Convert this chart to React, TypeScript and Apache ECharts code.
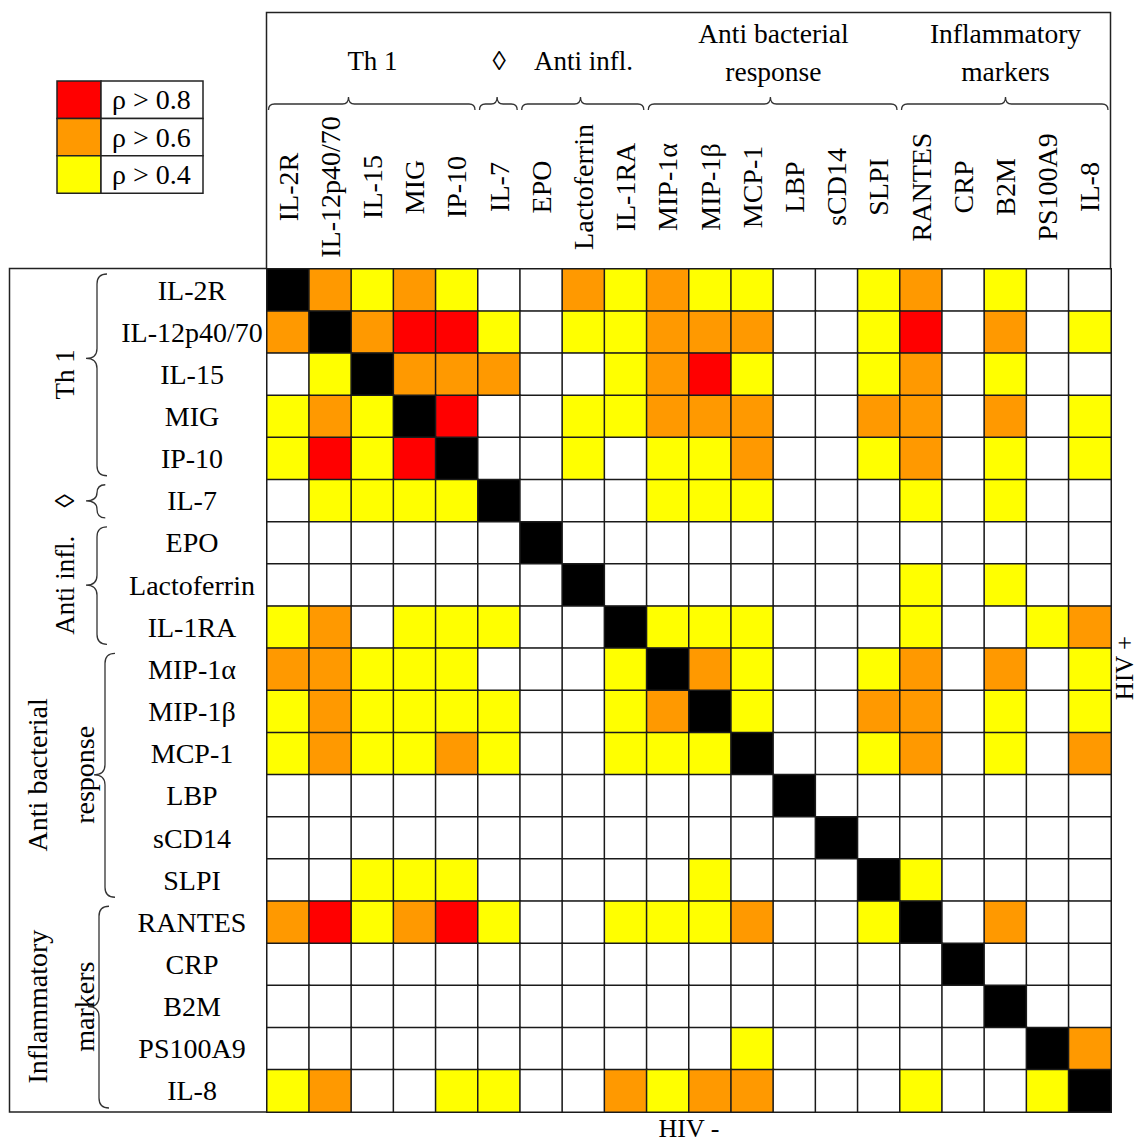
import React, { useEffect, useRef } from 'react';
import * as echarts from 'echarts';

// ---------- data ----------
const markers = [
  'IL-2R', 'IL-12p40/70', 'IL-15', 'MIG', 'IP-10', 'IL-7', 'EPO', 'Lactoferrin', 'IL-1RA',
  'MIP-1α', 'MIP-1β', 'MCP-1', 'LBP', 'sCD14', 'SLPI', 'RANTES', 'CRP', 'B2M', 'PS100A9', 'IL-8',
];

// correlation level per cell: 0 = none, 1 = ρ > 0.4, 2 = ρ > 0.6, 3 = ρ > 0.8, 4 = diagonal
const levels: number[][] = [
  [4, 2, 1, 2, 1, 0, 0, 2, 1, 2, 1, 1, 0, 0, 1, 2, 0, 1, 0, 0],
  [2, 4, 2, 3, 3, 1, 0, 1, 1, 2, 2, 2, 0, 0, 1, 3, 0, 2, 0, 1],
  [0, 1, 4, 2, 2, 2, 0, 0, 1, 2, 3, 1, 0, 0, 1, 2, 0, 1, 0, 0],
  [1, 2, 1, 4, 3, 0, 0, 1, 1, 2, 2, 2, 0, 0, 2, 2, 0, 2, 0, 1],
  [1, 3, 1, 3, 4, 0, 0, 1, 0, 1, 1, 2, 0, 0, 1, 2, 0, 1, 0, 1],
  [0, 1, 1, 1, 1, 4, 0, 0, 0, 1, 1, 1, 0, 0, 0, 1, 0, 1, 0, 0],
  [0, 0, 0, 0, 0, 0, 4, 0, 0, 0, 0, 0, 0, 0, 0, 0, 0, 0, 0, 0],
  [0, 0, 0, 0, 0, 0, 0, 4, 0, 0, 0, 0, 0, 0, 0, 1, 0, 1, 0, 0],
  [1, 2, 0, 1, 1, 1, 0, 0, 4, 1, 1, 1, 0, 0, 0, 1, 0, 0, 1, 2],
  [2, 2, 1, 1, 1, 0, 0, 0, 1, 4, 2, 1, 0, 0, 1, 2, 0, 2, 0, 1],
  [1, 2, 1, 1, 1, 1, 0, 0, 1, 2, 4, 1, 0, 0, 2, 2, 0, 1, 0, 1],
  [1, 2, 1, 1, 2, 1, 0, 0, 1, 1, 1, 4, 0, 0, 1, 2, 0, 1, 0, 2],
  [0, 0, 0, 0, 0, 0, 0, 0, 0, 0, 0, 0, 4, 0, 0, 0, 0, 0, 0, 0],
  [0, 0, 0, 0, 0, 0, 0, 0, 0, 0, 0, 0, 0, 4, 0, 0, 0, 0, 0, 0],
  [0, 0, 1, 1, 1, 0, 0, 0, 0, 0, 1, 0, 0, 0, 4, 1, 0, 0, 0, 0],
  [2, 3, 1, 2, 3, 1, 0, 0, 1, 1, 1, 2, 0, 0, 1, 4, 0, 2, 0, 0],
  [0, 0, 0, 0, 0, 0, 0, 0, 0, 0, 0, 0, 0, 0, 0, 0, 4, 0, 0, 0],
  [0, 0, 0, 0, 0, 0, 0, 0, 0, 0, 0, 0, 0, 0, 0, 0, 0, 4, 0, 0],
  [0, 0, 0, 0, 0, 0, 0, 0, 0, 0, 0, 1, 0, 0, 0, 0, 0, 0, 4, 2],
  [1, 2, 0, 0, 1, 1, 0, 0, 2, 1, 2, 2, 0, 0, 0, 1, 0, 0, 1, 4],
];

const levelColors = ['#ffffff', '#ffff00', '#ff9900', '#ff0000', '#000000'];
const legendLabels = ['ρ > 0.8', 'ρ > 0.6', 'ρ > 0.4'];
const legendLevels = [3, 2, 1];

const groupLines: string[][] = [['Th 1'], ['◊'], ['Anti infl.'], ['Anti bacterial', 'response'], ['Inflammatory', 'markers']];
const groupStart = [0, 5, 6, 9, 15];
const groupEnd = [4, 5, 8, 14, 19];

const axisTitleX = 'HIV -';
const axisTitleY = 'HIV +';

// ---------- layout ----------
const FONT = '"Liberation Serif", "Times New Roman", serif';
const W = 1137;
const H = 1143;
const GX = 267;
const GY = 269;
const GW = 844;
const GH = 843;
const N = markers.length;
const CW = GW / N;
const CH = GH / N;
const LINE = '#222222';
const topTipShift = [-24, -2, -3, -3, 0];
const leftTipShift = [-16, 0, 0, 0, 0];
const leftBraceX = [97, 97, 97, 105, 99];

function hBrace(x0: number, x1: number, xt: number, y: number, r: number, h: number) {
  return `M ${x0} ${y + r} Q ${x0} ${y} ${x0 + r} ${y} L ${xt - r} ${y} Q ${xt} ${y} ${xt} ${y - h} Q ${xt} ${y} ${xt + r} ${y} L ${x1 - r} ${y} Q ${x1} ${y} ${x1} ${y + r}`;
}
function vBrace(y0: number, y1: number, yt: number, x: number, r: number, h: number) {
  return `M ${x + r} ${y0} Q ${x} ${y0} ${x} ${y0 + r} L ${x} ${yt - r} Q ${x} ${yt} ${x - h} ${yt} Q ${x} ${yt} ${x} ${yt + r} L ${x} ${y1 - r} Q ${x} ${y1} ${x + r} ${y1}`;
}

function txt(text: string, x: number, y: number, size: number, rotation = 0, align = 'center') {
  return { type: 'text', silent: true, x, y, rotation, style: { text, font: `${size}px ${FONT}`, fill: '#000', align, verticalAlign: 'middle' } };
}

function buildGraphics() {
  const els: any[] = [];
  // frames
  els.push({
    type: 'polyline', silent: true,
    shape: { points: [[GX - 0.5, GY], [GX - 0.5, 12.5], [GX + GW - 0.5, 12.5], [GX + GW - 0.5, GY]] },
    style: { stroke: LINE, lineWidth: 1.5, fill: null },
  });
  els.push({
    type: 'polyline', silent: true,
    shape: { points: [[GX, GY - 0.5], [9.5, GY - 0.5], [9.5, GY + GH], [GX, GY + GH]] },
    style: { stroke: LINE, lineWidth: 1.5, fill: null },
  });

  groupLines.forEach((lines, g) => {
    const x0 = GX + groupStart[g] * CW;
    const x1 = GX + (groupEnd[g] + 1) * CW;
    const y0 = GY + groupStart[g] * CH;
    const y1 = GY + (groupEnd[g] + 1) * CH;
    const cx = (x0 + x1) / 2;
    const cy = (y0 + y1) / 2;
    // top braces
    const topName = 'braceTop' + g;
    echarts.graphic.registerShape(topName, echarts.graphic.extendPath(hBrace(x0 + 1.5, x1 - 3, cx + topTipShift[g], 104, 6, 7), {}) as any);
    els.push({ type: topName, silent: true, style: { stroke: '#333', lineWidth: 1.3, fill: 'none' } });
    // left braces
    const leftName = 'braceLeft' + g;
    const r = Math.min(10, (y1 - y0 - 9) / 4);
    echarts.graphic.registerShape(leftName, echarts.graphic.extendPath(vBrace(y0 + 5, y1 - 4, cy + leftTipShift[g], leftBraceX[g], r, 11), {}) as any);
    els.push({ type: leftName, silent: true, style: { stroke: '#333', lineWidth: 1.3, fill: 'none' } });
    // titles
    if (lines.length === 1) {
      els.push(txt(lines[0], cx, 61, 27));
      els.push(txt(lines[0], 65, cy, 27, Math.PI / 2));
    } else {
      els.push(txt(lines[0], cx, 33, 27.5));
      els.push(txt(lines[1], cx, 71, 27.5));
      els.push(txt(lines[0], 37, cy, 28, Math.PI / 2));
      els.push(txt(lines[1], 84, cy, 28, Math.PI / 2));
    }
  });

  // legend
  const LX = 57, LY = 81, LH = 37.4, LCW = 44, LTW = 102;
  legendLabels.forEach((lab, i) => {
    const y = LY + i * LH;
    els.push({ type: 'rect', silent: true, shape: { x: LX, y, width: LCW, height: LH }, style: { fill: levelColors[legendLevels[i]], stroke: LINE, lineWidth: 1.5 } });
    els.push({ type: 'rect', silent: true, shape: { x: LX + LCW, y, width: LTW, height: LH }, style: { fill: '#fff', stroke: LINE, lineWidth: 1.5 } });
    els.push(txt(lab, LX + LCW + 11, y + LH / 2, 28, 0, 'left'));
  });

  // axis titles
  els.push(txt(axisTitleX, GX + GW / 2, 1128, 26));
  els.push(txt(axisTitleY, 1124, 668, 25, Math.PI / 2));
  return els;
}

export default function App() {
  const ref = useRef<HTMLDivElement>(null);
  useEffect(() => {
    if (!ref.current) return;
    const chart = echarts.init(ref.current, null, { renderer: 'svg' });
    const data: number[][] = [];
    levels.forEach((row, r) => row.forEach((v, c) => data.push([c, r, v])));
    const labelStyle = { fontFamily: FONT, fontSize: 28, color: '#000' };
    chart.setOption({
      animation: false,
      backgroundColor: '#ffffff',
      grid: { left: GX, top: GY, width: GW, height: GH, containLabel: false, outerBoundsMode: 'none' },
      xAxis: {
        type: 'category', data: markers, position: 'top',
        axisLine: { show: false }, axisTick: { show: false }, splitLine: { show: false },
        axisLabel: { ...labelStyle, interval: 0, rotate: -90, margin: 82, align: 'center', verticalAlign: 'middle' },
      },
      yAxis: {
        type: 'category', data: markers, inverse: true,
        axisLine: { show: false }, axisTick: { show: false }, splitLine: { show: false },
        axisLabel: { ...labelStyle, interval: 0, margin: 75, align: 'center', verticalAlign: 'middle' },
      },
      visualMap: {
        type: 'piecewise', show: false, dimension: 2, seriesIndex: 0,
        pieces: levelColors.map((color, i) => ({ value: i, color })),
      },
      series: [{
        type: 'heatmap', data,
        itemStyle: { borderColor: '#1a1a1a', borderWidth: 1.5 },
        emphasis: { disabled: true },
      }],
      graphic: buildGraphics(),
    });
    return () => chart.dispose();
  }, []);
  return <div ref={ref} style={{ position: 'absolute', left: 0, top: 0, width: W, height: H, background: '#fff' }} />;
}
